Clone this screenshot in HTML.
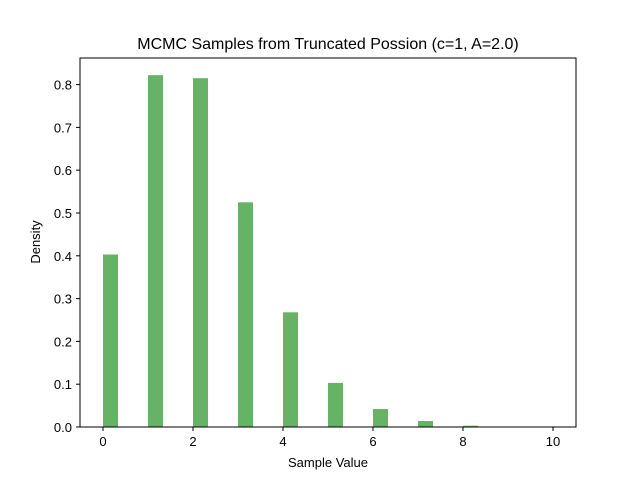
<!DOCTYPE html>
<html><head><meta charset="utf-8"><style>
body{margin:0;background:#fff;}
svg{display:block;font-family:"Liberation Sans","DejaVu Sans",sans-serif;}
</style></head><body>
<svg id="chart" width="640" height="480">
<rect width="640" height="480" fill="#fff"/>
<text x="328" y="49" font-size="16" text-anchor="middle">MCMC Samples from Truncated Possion (c=1, A=2.0)</text>
<g id="bars"></g>
<rect x="80" y="58" width="496" height="369" fill="none" stroke="#000" stroke-width="1"/>
<g id="xticks"></g><g id="yticks"></g>
<text x="328" y="467" font-size="13" text-anchor="middle">Sample Value</text>
<text transform="translate(40,242) rotate(-90)" font-size="13" text-anchor="middle">Density</text>
</svg>
<script>
const sampleValues=[0,1,2,3,4,5,6,7,8,9,10];
const densities=[0.403,0.822,0.815,0.525,0.268,0.103,0.042,0.014,0.003,0,0];
const xTickLabels=[0,2,4,6,8,10];
const yTickLabels=[0.0,0.1,0.2,0.3,0.4,0.5,0.6,0.7,0.8];
const binWidth=1/3;
const ns="http://www.w3.org/2000/svg";
function xs(v){return 103+v*45;}
function ys(v){return 427-v*428;}
const bars=document.getElementById('bars');
sampleValues.forEach((v,i)=>{
  if(densities[i]<=0)return;
  const r=document.createElementNS(ns,'rect');
  
  
  const x0=xs(v),x1=xs(v+binWidth);
  r.setAttribute('x',x0);r.setAttribute('width',x1-x0);
  r.setAttribute('y',ys(densities[i]));r.setAttribute('height',ys(0)-ys(densities[i]));
  r.setAttribute('fill','#66b366');
  bars.appendChild(r);
});
const xt=document.getElementById('xticks');
xTickLabels.forEach(v=>{
  const l=document.createElementNS(ns,'line');
  
  
  l.setAttribute('x1',xs(v));l.setAttribute('x2',xs(v));l.setAttribute('y1',427);l.setAttribute('y2',431);l.setAttribute('stroke','#000');
  xt.appendChild(l);
  const t=document.createElementNS(ns,'text');
  
  
  t.setAttribute('x',xs(v));t.setAttribute('y',446);t.setAttribute('font-size','13');t.setAttribute('text-anchor','middle');
  t.textContent=v;xt.appendChild(t);
});
const yt=document.getElementById('yticks');
yTickLabels.forEach(v=>{
  const l=document.createElementNS(ns,'line');
  
  
  l.setAttribute('x1',76);l.setAttribute('x2',80);l.setAttribute('y1',ys(v));l.setAttribute('y2',ys(v));l.setAttribute('stroke','#000');
  yt.appendChild(l);
  const t=document.createElementNS(ns,'text');
  
  
  t.setAttribute('x',72);t.setAttribute('y',ys(v)+5);t.setAttribute('font-size','13');t.setAttribute('text-anchor','end');
  t.textContent=v.toFixed(1);yt.appendChild(t);
});
</script>
</body></html>
